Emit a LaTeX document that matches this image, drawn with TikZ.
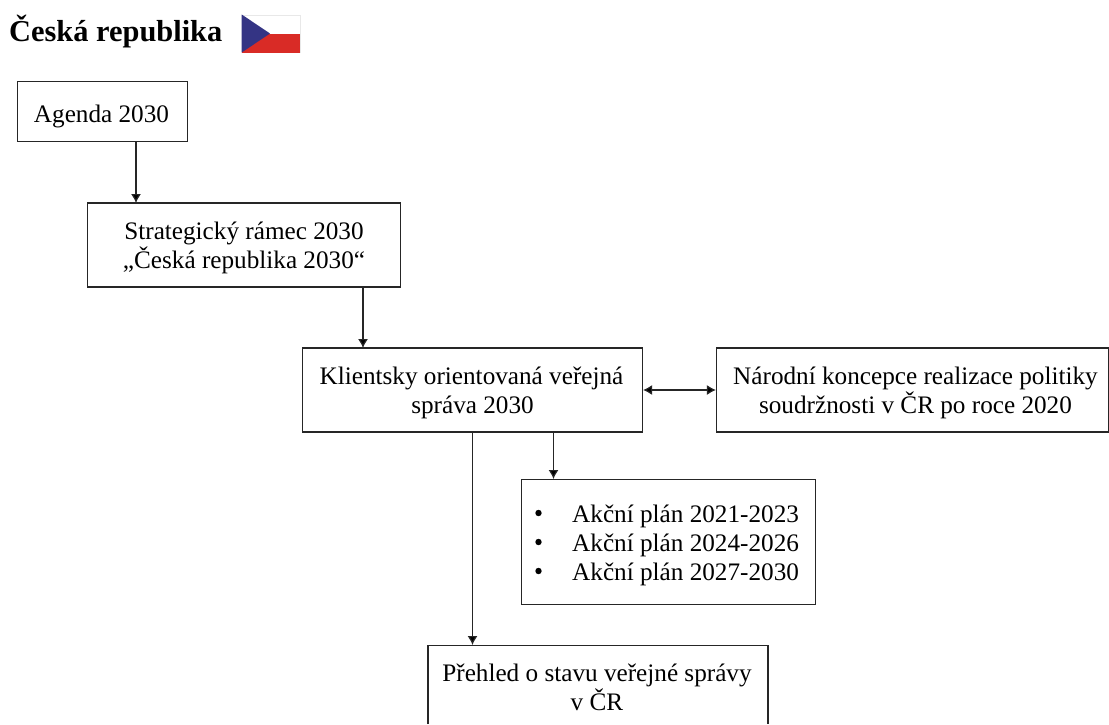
\documentclass[tikz,border=0pt]{standalone}
\usepackage{fontspec}
\setmainfont{Liberation Serif}
\usetikzlibrary{arrows.meta}
\definecolor{flagred}{HTML}{D92B26}
\definecolor{flagblue}{HTML}{343484}
\definecolor{flagedge}{HTML}{E8E8E8}
\definecolor{linec}{HTML}{262626}
\newcommand{\dn}{\rule{0pt}{24pt}}
\tikzset{
  txt/.style={font=\fontsize{25.2}{29}\selectfont,inner sep=0pt},
  boxn/.style={txt,draw=linec,line width=1.2pt,align=center},
  conn/.style={draw=linec,line width=1.2pt,-{Latex[length=9pt,width=10pt,fill=black]}},
  both/.style={draw=linec,line width=1.2pt,{Latex[length=9pt,width=10pt,fill=black]}-{Latex[length=9pt,width=10pt,fill=black]}}
}
\begin{document}
\begin{tikzpicture}[x=1pt,y=-1pt]
\useasboundingbox (0,0) rectangle (1109,724);
\fill[white] (0,0) rectangle (1109,724);
\node[anchor=west,font=\fontsize{30.4}{34}\selectfont\bfseries,inner sep=0pt] (title) at (9,32) {Česká republika};
\draw[flagedge,line width=0.6pt] (242,15) rectangle (300,52);
\fill[flagred] (242,33.5) rectangle (300,52.5);
\fill[flagblue] (241.7,14.5) -- (270,33.5) -- (241.7,52.5) -- cycle;
\node[boxn,minimum width=170pt,minimum height=60pt] (a) at (102.5,111.5) {\dn\rule{0pt}{27pt}\hspace*{-2pt}Agenda 2030};
\node[boxn,minimum width=313pt,minimum height=84pt] (b) at (244,245) {\dn Strategický rámec 2030\\„Česká republika 2030“};
\node[boxn,minimum width=340pt,minimum height=84pt] (c) at (472.5,390) {\dn\hspace*{-2pt}Klientsky orientovaná veřejná\\správa 2030};
\node[boxn,minimum width=392pt,minimum height=84pt] (d) at (912.5,390) {\dn\hspace*{6pt}Národní koncepce realizace politiky\\\hspace*{6pt}soudržnosti v ČR po roce 2020};
\node[boxn,minimum width=294pt,minimum height=125pt] (e) at (668.5,542) {};
\node[txt,anchor=west,align=left] (el) at (572,545) {Akční plán 2021-2023\\Akční plán 2024-2026\\Akční plán 2027-2030};
\foreach \yy in {513,542,571} \fill (538.5,\yy) circle (3.2pt);
\draw[draw=linec,line width=1.2pt] (428,724) -- (428,645.5) -- (768,645.5) -- (768,724);
\node[txt,align=center] (f) at (597,687) {Přehled o stavu veřejné správy\\v ČR};
\coordinate (ft) at (472.5,645);
\coordinate (at) at (136,142);
\coordinate (bt) at (136,203);
\coordinate (bb) at (363,288);
\coordinate (ct) at (363,348);
\coordinate (cb) at (553.5,432);
\coordinate (et) at (553.5,479);
\coordinate (cc) at (472.5,432);
\draw[conn] (at) -- (bt);
\draw[conn] (bb) -- (ct);
\draw[both] (c.east) -- (d.west);
\draw[conn] (cb) -- (et);
\draw[conn] (cc) -- (ft);
\end{tikzpicture}
\end{document}
